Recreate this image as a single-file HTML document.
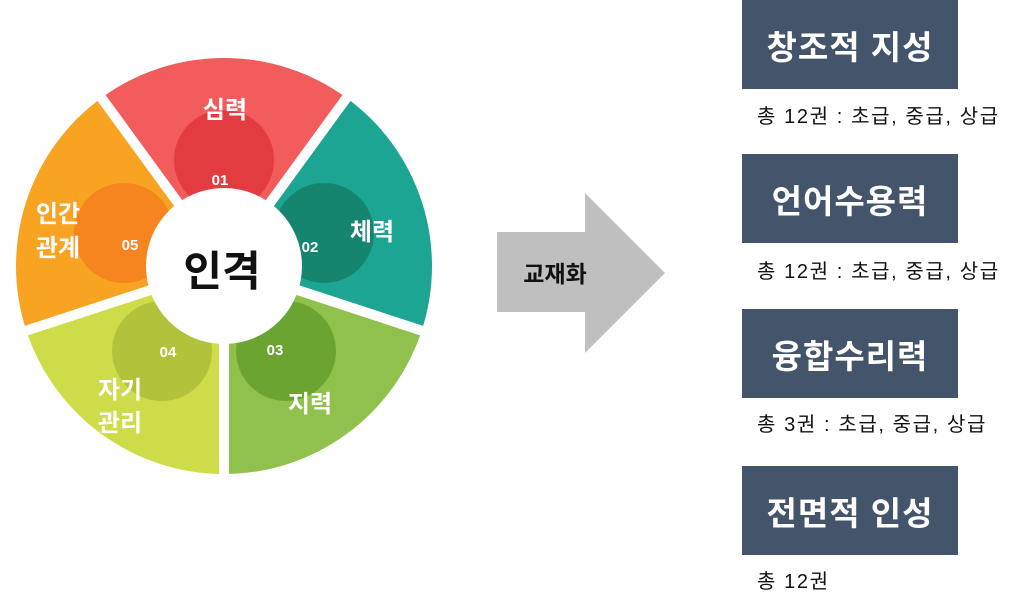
<!DOCTYPE html>
<html><head><meta charset="utf-8"><style>
body{margin:0;width:1024px;height:602px;background:#fff;overflow:hidden;position:relative;font-family:"Liberation Sans","Noto Sans CJK KR",sans-serif}
.box{position:absolute;left:742px;width:216px;height:89px;background:#44546a;color:#fff;font-weight:bold;font-size:33px;display:flex;align-items:center;justify-content:center;letter-spacing:1px}
.sub{position:absolute;left:757px;font-size:20px;letter-spacing:1.6px;color:#111}
</style></head><body>
<svg width="1024" height="602" style="position:absolute;left:0;top:0" font-family="Liberation Sans, Noto Sans CJK KR, sans-serif">
<defs>
<clipPath id="c1"><path d="M224 266 L101.7 97.7 A208 208 0 0 1 346.3 97.7Z"/></clipPath>
<clipPath id="c2"><path d="M224 266 L346.3 97.7 A208 208 0 0 1 421.8 330.3Z"/></clipPath>
<clipPath id="c3"><path d="M224 266 L421.8 330.3 A208 208 0 0 1 224 474Z"/></clipPath>
<clipPath id="c4"><path d="M224 266 L224 474 A208 208 0 0 1 26.2 330.3Z"/></clipPath>
<clipPath id="c5"><path d="M224 266 L26.2 330.3 A208 208 0 0 1 101.7 97.7Z"/></clipPath>
</defs>
<g clip-path="url(#c1)"><rect width="1024" height="602" fill="#f25c5c"/><circle cx="224" cy="160" r="50" fill="#e23c40"/></g>
<g clip-path="url(#c2)"><rect width="1024" height="602" fill="#1ba592"/><circle cx="324" cy="233" r="50" fill="#168570"/></g>
<g clip-path="url(#c3)"><rect width="1024" height="602" fill="#8fc14c"/><circle cx="286" cy="351" r="50" fill="#6ca432"/></g>
<g clip-path="url(#c4)"><rect width="1024" height="602" fill="#cfdc4a"/><circle cx="162" cy="351" r="50" fill="#b2c23a"/></g>
<g clip-path="url(#c5)"><rect width="1024" height="602" fill="#f9a322"/><circle cx="124" cy="233" r="50" fill="#f6841f"/></g>
<circle cx="224" cy="266" r="78" fill="#fff"/>
<g stroke="#fff" stroke-width="10">
<line x1="224" y1="266" x2="95" y2="89"/><line x1="224" y1="266" x2="353" y2="89"/>
<line x1="224" y1="266" x2="432" y2="334"/><line x1="224" y1="266" x2="224" y2="485"/>
<line x1="224" y1="266" x2="16" y2="334"/>
</g>
<g fill="#fff" font-weight="bold" text-anchor="middle">
<text x="225" y="118" font-size="24">심력</text>
<text x="220" y="185" font-size="15">01</text>
<text x="372" y="240" font-size="24">체력</text>
<text x="310" y="252" font-size="15">02</text>
<text x="310" y="412" font-size="24">지력</text>
<text x="275" y="355" font-size="15">03</text>
<text x="168" y="357" font-size="15">04</text>
<text x="120" y="398" font-size="24">자기</text>
<text x="120" y="431" font-size="24">관리</text>
<text x="130" y="250" font-size="15">05</text>
<text x="58" y="222" font-size="24">인간</text>
<text x="58" y="256" font-size="24">관계</text>
</g>
<text x="222" y="286" font-size="42" font-weight="bold" text-anchor="middle" fill="#111">인격</text>
<path d="M497 232 H585 V193 L665 273 L585 353 V312 H497Z" fill="#bfbfbf"/>
<text x="555" y="282" font-size="23" font-weight="bold" text-anchor="middle" fill="#111">교재화</text>
</svg>
<div class="box" style="top:0">창조적 지성</div>
<div class="sub" style="top:100px">총 12권 : 초급, 중급, 상급</div>
<div class="box" style="top:154px">언어수용력</div>
<div class="sub" style="top:255px">총 12권 : 초급, 중급, 상급</div>
<div class="box" style="top:309px">융합수리력</div>
<div class="sub" style="top:408px">총 3권 : 초급, 중급, 상급</div>
<div class="box" style="top:466px">전면적 인성</div>
<div class="sub" style="top:565px">총 12권</div>
</body></html>
